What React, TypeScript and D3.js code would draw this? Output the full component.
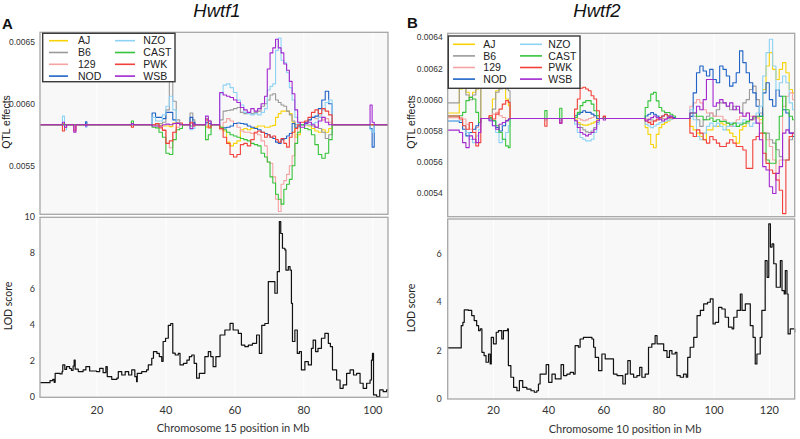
import React from "react";
import * as d3 from "d3";

// ---------- strains ----------
const strainNames = ["AJ", "B6", "129", "NOD", "NZO", "CAST", "PWK", "WSB"];
const strainColors = ["#f7d308", "#9a9a9a", "#f5a3a3", "#1f63c6", "#8ed2f4", "#35c43a", "#f2403a", "#a328d0"];

// QTL effects are stored as deviations from the panel baseline, in units of 1e-6
const effectUnit = 1e-6;
const baselineA = 0.00583;
const baselineB = 0.00588;

// ---------- Panel A (Hwtf1, chromosome 15) ----------
const posA = [3.5, 10.0, 10.6, 11.2, 13.3, 13.9, 16.7, 17.1, 30.0, 30.6, 36.0, 37.0, 38.0, 39.0, 40.0, 41.0, 42.0, 43.0, 44.0, 44.8, 47.0, 47.8, 48.4, 51.5, 52.3, 53.1, 55.6, 56.6, 57.6, 58.6, 59.6, 60.6, 61.6, 62.6, 63.6, 64.6, 65.6, 66.6, 67.6, 68.6, 69.4, 70.2, 71.0, 71.8, 72.6, 73.4, 74.2, 75.0, 75.8, 76.6, 77.4, 78.2, 79.0, 80.2, 81.2, 82.2, 83.2, 84.2, 85.2, 86.2, 87.2, 88.2, 99.2, 99.8, 100.4, 104.4];
const ajA = [0, 10, 0, 0, 0, 0, 0, 0, 0, 0, 0, 0, -5, -10, -10, -15, 15, 15, 5, 0, 10, 0, 0, -20, -10, 0, -20, -50, -140, -170, -150, -130, -40, -30, -40, -30, -20, -10, -10, -20, -20, -10, -5, 60, 90, 110, 110, 110, 90, 20, -100, -80, 0, 0, -10, -30, -50, -60, -40, -60, -30, 0, 0, 0, 0, 0];
const b6A = [0, 0, 0, 0, 0, 0, 0, 0, 0, 0, 0, 0, 10, 20, 120, 380, 190, 40, 10, 0, 95, 40, 0, 50, 30, 0, 40, 110, 115, 120, 130, 140, 100, 90, 95, 90, 100, 110, 150, 170, 200, 240, 250, 200, 180, 160, 150, 110, 80, 30, 0, 0, 0, 0, 0, -10, -20, -30, -60, -110, -80, 0, 0, 0, 0, 0];
const s129A = [0, 0, 0, 0, -40, 0, 0, 0, 0, 0, 0, -10, -30, -40, -150, -185, -60, -20, 0, 0, 10, 0, 0, -10, -30, 0, -40, 20, 50, 30, 10, -20, -50, -60, -60, -70, -70, -80, -130, -170, -300, -310, -420, -600, -700, -480, -450, -400, -330, -250, -80, -20, 0, 20, 40, 60, 50, 70, 40, 50, 20, 0, 0, 0, 0, 0];
const nodA = [0, 0, 0, 0, 0, 0, 25, 0, 0, 0, 95, 60, 60, 50, 100, 100, 40, 15, 10, 0, 60, 20, 0, 20, 10, 0, -30, -25, -20, -10, 10, 15, 10, 5, -10, -20, -30, -40, -60, -70, -80, -100, -110, -140, -150, -120, -110, -90, -70, 10, -20, -10, 0, 20, 40, 60, 70, 130, 200, 270, 170, 0, -30, -180, 0, 0];
const nzoA = [0, 70, -40, 0, 0, 0, -20, 0, 0, 0, 60, 30, 30, 80, 150, 230, 120, 20, 10, 0, -40, -30, 0, 10, 0, 0, 250, 320, 330, 300, 260, 200, 160, 100, 90, 80, 90, 80, 100, 130, 280, 310, 330, 600, 700, 520, 500, 420, 300, 200, 60, 10, 0, 0, 0, 10, 20, 60, 120, 180, 200, 0, -40, -60, 0, 0];
const castA = [0, 0, 0, 0, 0, 0, 0, 0, 30, 0, -20, -25, -60, -100, -230, -240, -120, -40, -30, 0, -10, 0, 0, -120, -80, 0, -20, -40, -60, -80, -90, -100, -110, -120, -130, -150, -160, -170, -230, -260, -300, -420, -470, -560, -600, -640, -520, -480, -440, -330, -150, -60, 0, -30, -40, -80, -160, -240, -270, -230, -120, 0, 0, 0, 0, 0];
const pwkA = [0, -50, -20, 0, -50, 0, 0, 0, -20, 0, 0, 10, -20, -45, -150, -130, -60, 15, 15, 0, 20, -10, 0, 40, -20, 0, -30, -100, -150, -240, -260, -240, -160, -150, -170, -120, -60, -50, -60, -100, -80, -100, -90, -120, -140, -110, -150, -180, -100, -60, -30, 0, 20, 30, 60, 100, 120, 90, 130, 110, 80, 0, 0, 0, 0, 0];
const wsbA = [0, 20, -20, 0, -60, 0, -10, 0, 10, 0, -10, -10, -10, 0, 5, 0, 10, 10, 0, 0, -30, 10, 0, 70, 30, 0, 260, 240, 230, 220, 200, 180, 140, 120, 100, 130, 110, 130, 170, 230, 450, 580, 620, 690, 620, 580, 490, 440, 350, 250, 120, 20, -20, 10, 20, 0, -20, 30, 60, 20, 0, 0, 160, 20, 0, 0];

const lodPosA = [3.5, 5.9, 6.4, 7.2, 7.6, 7.9, 9.3, 9.9, 10.1, 10.7, 11.2, 12.1, 12.6, 13.1, 13.4, 13.7, 14.6, 16.0, 16.8, 17.9, 19.9, 20.8, 21.8, 22.6, 23.0, 24.3, 25.8, 26.2, 27.2, 28.2, 29.2, 30.1, 31.0, 31.5, 31.7, 33.0, 34.4, 34.9, 35.9, 36.4, 37.4, 38.1, 38.8, 39.2, 39.9, 40.7, 41.4, 42.0, 42.7, 43.6, 44.1, 45.1, 46.1, 46.8, 47.5, 48.2, 48.9, 49.7, 50.9, 51.3, 52.3, 53.0, 53.7, 54.5, 55.7, 57.1, 58.6, 59.5, 61.0, 61.9, 62.9, 63.9, 65.1, 66.3, 67.1, 67.8, 68.7, 69.7, 70.7, 71.6, 72.3, 72.9, 73.3, 73.8, 74.5, 74.8, 75.5, 76.0, 76.4, 76.7, 77.4, 78.1, 78.7, 79.3, 80.3, 81.3, 82.2, 82.7, 83.4, 84.1, 85.1, 86.1, 87.1, 87.7, 88.3, 89.5, 90.5, 91.4, 92.4, 93.4, 94.4, 95.3, 96.3, 97.2, 98.2, 99.2, 99.6, 99.9, 100.2, 101.1, 102.0, 103.0, 104.0, 104.4];
const lodA = [0.81, 0.81, 0.93, 1.0, 0.83, 1.33, 1.3, 1.43, 1.8, 1.55, 1.7, 1.6, 1.5, 1.74, 2.07, 1.56, 1.43, 1.52, 1.7, 1.46, 1.43, 1.61, 1.37, 1.7, 1.15, 1.0, 1.06, 1.43, 1.24, 1.43, 1.24, 1.52, 1.15, 0.87, 1.33, 1.43, 1.52, 1.8, 2.17, 2.54, 2.44, 2.26, 2.0, 3.1, 3.28, 4.0, 4.1, 2.45, 2.35, 2.44, 1.8, 1.89, 2.07, 2.26, 2.35, 1.89, 1.06, 1.33, 1.33, 2.26, 2.54, 2.26, 1.7, 2.26, 3.46, 3.74, 4.11, 3.74, 3.55, 2.9, 2.81, 2.9, 3.0, 3.46, 2.44, 4.0, 4.1, 6.43, 6.43, 5.78, 6.98, 9.76, 9.1, 8.28, 8.19, 7.07, 7.26, 7.07, 5.22, 3.1, 3.74, 2.44, 2.54, 1.52, 1.98, 1.8, 2.72, 3.18, 2.54, 2.72, 3.28, 3.55, 3.0, 2.81, 1.52, 0.96, 0.5, 0.69, 1.33, 1.52, 1.24, 1.33, 0.78, 0.5, 0.78, 0.96, 2.07, 2.44, 0.13, 0.04, 0.41, 0.31, 0.41, 0.41];

// ---------- Panel B (Hwtf2, chromosome 10) ----------
const posB = [3.4, 7.6, 8.8, 10.0, 11.2, 12.4, 13.6, 14.6, 15.4, 18.4, 19.6, 20.8, 22.0, 23.2, 24.4, 25.4, 26.0, 38.6, 39.4, 44.0, 44.8, 49.4, 50.4, 51.4, 52.4, 53.4, 54.4, 55.4, 56.4, 57.4, 58.4, 59.8, 60.6, 75.0, 76.0, 77.0, 78.0, 79.0, 80.0, 81.0, 82.0, 83.0, 84.0, 85.0, 86.0, 91.2, 92.4, 93.6, 94.8, 96.0, 97.2, 98.4, 99.6, 100.8, 102.0, 103.2, 104.4, 105.6, 106.8, 108.0, 109.2, 110.4, 111.6, 112.8, 114.0, 115.2, 116.4, 117.6, 118.8, 120.0, 121.2, 122.4, 123.6, 124.8, 126.0, 127.2, 128.4, 129.2];
const ajB = [35, 189, 200, 168, 135, 168, 189, 200, 0, 17, 125, 178, 200, 211, 125, 82, 0, 0, 0, 0, 0, -9, -26, -37, -43, -43, -37, -30, -22, -9, 0, 0, 0, -59, -102, -167, -188, -102, -59, -38, -27, -16, -5, 0, 0, -51, -73, -94, -116, -137, -73, -73, -51, -51, -30, -40, -73, -94, -116, -158, -73, -51, -30, -8, 14, 3, -8, 186, 336, 422, 315, 250, 315, 358, 293, 186, 164, 164];
const b6B = [100, 205, 215, 150, 120, 150, 190, 215, 0, 6, 60, 168, 189, 200, 189, 178, 0, 0, 0, 0, 0, -15, -37, -58, -73, -86, -90, -80, -58, -26, 0, 0, 0, -5, -5, -10, -16, -12, -5, 0, 0, 0, 0, 0, 0, 35, 14, -8, -51, -8, 14, 35, 14, 56, 100, 100, 78, 56, 78, 56, 35, 100, 121, 186, 207, 121, 35, -94, -94, -137, -158, -201, -245, -266, -266, -137, -116, -116];
const s129B = [5, 6, -4, -37, -69, -90, -58, -26, 0, 17, 28, 39, 17, 6, -15, -4, 0, 0, 0, 0, 0, 6, 0, -9, -15, -9, 0, 6, 17, 0, 0, 0, 0, -5, -16, -21, -16, -12, -8, -4, 0, 5, 0, 0, 0, 78, 100, 121, 100, 56, 35, 35, 14, 14, 14, -8, -30, -51, -30, -8, 14, 14, 35, 14, -8, 14, -30, -94, -137, -180, -266, -395, -266, 78, 142, 164, 121, 121];
const nodB = [-16, -26, -69, -112, -90, -69, -47, -26, 0, -4, -15, -58, -80, -47, -15, -4, 0, 0, 0, 0, 0, 17, 28, 39, 49, 39, 39, 28, 17, 0, 0, 10, 0, 16, 27, 38, 27, 16, 5, 16, 27, 16, 9, 5, 0, 13, 164, 293, 336, 304, 272, 315, 250, 229, 336, 315, 272, 207, 229, 293, 433, 358, 293, 229, 164, 78, 13, 164, 229, 121, 78, 185, 142, 56, 35, -94, -116, -116];
const nzoB = [-16, -15, -47, -90, -133, -155, -112, -69, 0, -15, -47, -90, -155, -133, -90, -47, 0, -10, 0, -15, 0, -37, -90, -122, -133, -144, -144, -133, -90, -37, 0, 0, 0, -38, -48, -59, -48, -38, -27, -21, -16, -12, -5, 0, 0, 56, -8, -116, -137, -94, -51, -30, -51, -30, -51, -73, -51, -30, -51, -30, -30, -8, -30, -51, -30, 35, 78, 272, 422, 508, 336, 186, 229, 272, 229, 100, 56, 56];
const castB = [16, 17, 39, 114, 135, 125, 39, -26, 0, 4, -15, -47, -90, -133, -176, -187, 0, 50, 0, 65, 0, 6, 39, 82, 103, 114, 114, 92, 49, 17, 0, 0, 0, 70, 113, 156, 167, 113, 70, 48, 38, 38, 27, 16, 0, 35, 35, 14, 14, -8, -8, 3, -19, -8, -19, -19, -30, -40, -30, -51, -40, -30, -19, -8, 3, 14, 14, -94, -266, -287, -287, -137, 14, 142, 56, 14, -8, -8];
const pwkB = [16, -4, -47, -69, -26, -90, -176, -155, 0, 17, -4, 28, 60, 92, 114, 103, 0, -50, 0, -30, 0, 60, 125, 194, 200, 189, 178, 146, 125, 49, 0, 15, 0, -16, -27, -38, -16, -5, 5, 16, 27, 16, 5, 0, 0, -94, -116, -73, -94, -137, -158, -116, -137, -158, -180, -180, -158, -137, -158, -180, -180, -202, -320, -320, -137, -116, -94, -223, -288, -331, -352, -395, -460, -610, -266, -116, -94, -94];
const wsbB = [-75, -90, -155, -187, -112, -133, -155, -90, 0, -15, -47, -69, -37, -26, -15, -4, 0, 0, 0, -30, 0, -15, -58, -90, -101, -112, -101, -90, -69, -15, 0, -10, 0, -16, -5, 5, 16, 5, -5, -16, -5, 5, 16, 0, 0, 35, 35, 78, 56, 121, 250, 250, 78, 100, 121, 100, 78, 100, 56, 78, 35, 14, 35, -8, 14, -30, -137, -309, -331, -438, -481, -352, -309, -94, -73, -94, -94, -94];

const lodPosB = [3.4, 7.9, 8.3, 8.9, 9.4, 10.9, 12.1, 13.0, 13.9, 14.6, 15.2, 15.8, 16.6, 17.3, 18.2, 18.8, 19.2, 20.0, 21.0, 21.8, 23.0, 23.6, 24.6, 25.1, 25.4, 26.3, 27.3, 28.5, 29.4, 30.6, 32.1, 33.6, 34.8, 35.7, 36.3, 36.9, 38.1, 39.1, 40.0, 41.2, 42.4, 43.6, 44.5, 45.4, 46.6, 47.8, 49.0, 49.6, 50.8, 51.4, 52.6, 54.5, 55.7, 56.3, 56.9, 58.1, 59.3, 60.5, 62.3, 63.5, 64.8, 66.0, 66.9, 67.8, 68.7, 69.6, 70.8, 72.0, 73.0, 73.8, 75.0, 76.2, 77.4, 78.6, 79.3, 80.5, 81.7, 82.9, 83.8, 84.7, 85.9, 86.5, 87.7, 88.9, 89.9, 90.4, 91.3, 92.6, 93.8, 95.0, 96.2, 97.6, 98.6, 99.6, 100.4, 101.6, 102.8, 104.0, 105.2, 106.5, 107.1, 108.3, 109.5, 110.1, 111.3, 112.5, 113.1, 114.1, 114.9, 115.5, 116.7, 117.3, 118.5, 119.2, 119.8, 120.4, 121.0, 121.6, 122.5, 123.4, 124.0, 124.6, 125.4, 125.8, 126.4, 126.8, 127.6, 129.2];
const lodB = [2.11, 2.11, 3.03, 3.17, 3.68, 3.66, 3.45, 3.24, 3.03, 2.83, 2.9, 1.93, 1.79, 1.52, 1.86, 1.45, 2.55, 2.28, 2.76, 2.83, 2.48, 2.83, 2.83, 2.9, 1.38, 0.9, 0.48, 0.34, 0.76, 0.48, 0.41, 0.34, 0.28, 0.34, 0.62, 1.03, 1.03, 1.42, 0.69, 1.03, 0.83, 0.83, 1.42, 0.97, 1.03, 1.1, 1.03, 2.21, 2.14, 2.48, 2.55, 2.55, 2.48, 2.14, 1.72, 1.17, 1.86, 1.66, 1.66, 1.03, 0.97, 0.97, 0.62, 1.03, 1.59, 1.03, 0.9, 0.97, 1.31, 0.9, 1.03, 2.14, 2.28, 2.62, 2.28, 2.28, 2.0, 1.72, 2.0, 1.86, 1.93, 0.97, 0.9, 1.03, 0.9, 1.72, 2.14, 2.55, 3.45, 3.66, 3.93, 4.0, 4.14, 3.1, 3.17, 3.79, 3.72, 3.38, 2.97, 2.9, 3.38, 3.66, 4.34, 3.66, 3.93, 3.93, 3.03, 2.55, 1.45, 1.86, 2.55, 3.66, 5.72, 5.03, 7.24, 6.28, 6.41, 5.59, 4.62, 4.62, 5.72, 4.48, 4.34, 5.31, 4.34, 2.69, 2.9, 2.76];

// ---------- axis ticks ----------
const effectTicksA = [0.0055, 0.006, 0.0065];
const effectTicksB = [0.0054, 0.0056, 0.0058, 0.006, 0.0062, 0.0064];
const lodTicksA = [0, 2, 4, 6, 8, 10];
const lodTicksB = [0, 2, 4, 6];
const mbTicksA = [20, 40, 60, 80, 100];
const mbTicksB = [20, 40, 60, 80, 100, 120];

const topFont = "'Liberation Sans', Arial, Helvetica, sans-serif";
const botFont = "Lato, 'Open Sans', 'Liberation Sans', sans-serif";
const fmt4 = d3.format(".4f");

type Box = { left: number; right: number; top: number; bottom: number };

function Legend({ x, y, w, h, rowY, rowGap, col1, col2 }: any) {
  return (
    <g>
      <rect x={x} y={y} width={w} height={h} fill="#ffffff" stroke="#3a3a3a" strokeWidth={1.4} />
      {strainNames.map((n, i) => {
        const col = i < 4 ? col1 : col2;
        const cy = y + rowY + (i % 4) * rowGap;
        return (
          <g key={n}>
            <line x1={col[0]} x2={col[1]} y1={cy} y2={cy} stroke={strainColors[i]} strokeWidth={1.6} />
            <text x={col[2]} y={cy} dy="0.36em" fontSize={10.5} fontFamily={topFont} fill="#222">{n}</text>
          </g>
        );
      })}
    </g>
  );
}

function EffectsPanel({ id, box, xDomain, yDomain, pos, series, baseline, yTicks, xTicks, labelGap, children }: any) {
  const { left, right, top, bottom } = box as Box;
  const x = d3.scaleLinear().domain(xDomain).range([left, right]);
  const y = d3.scaleLinear().domain(yDomain).range([bottom, top]);
  const gen = d3
    .line<number>()
    .x((_, i) => x(pos[i]))
    .y((v) => y(baseline + v * effectUnit))
    .curve(d3.curveStepAfter);
  return (
    <g>
      <defs>
        <clipPath id={id}>
          <rect x={left} y={top} width={right - left} height={bottom - top} />
        </clipPath>
      </defs>
      <rect x={left} y={top} width={right - left} height={bottom - top} fill="#f8f8f8" />
      {xTicks.map((t: number) => (
        <line key={t} x1={x(t)} x2={x(t)} y1={top} y2={bottom} stroke="#ffffff" strokeWidth={1} />
      ))}
      <g clipPath={`url(#${id})`}>
        {series.map((s: number[], i: number) => (
          <path key={i} d={gen(s) || ""} fill="none" stroke={strainColors[i]} strokeWidth={1.1} strokeLinejoin="round" />
        ))}
      </g>
      <rect x={left} y={top} width={right - left} height={bottom - top} fill="none" stroke="#a6a6a6" strokeWidth={1.3} />
      {yTicks.map((t: number) => (
        <text key={t} x={left - labelGap} y={y(t)} dy="0.35em" textAnchor="end" fontSize={8.5} fontFamily={topFont} fill="#333">
          {fmt4(t)}
        </text>
      ))}
      {children}
    </g>
  );
}

function LodPanel({ box, xDomain, yDomain, pos, vals, yTicks, xTicks, labelGap }: any) {
  const { left, right, top, bottom } = box as Box;
  const x = d3.scaleLinear().domain(xDomain).range([left, right]);
  const y = d3.scaleLinear().domain(yDomain).range([bottom, top]);
  const gen = d3
    .line<number>()
    .x((_, i) => x(pos[i]))
    .y((v) => y(v))
    .curve(d3.curveStepAfter);
  return (
    <g>
      <rect x={left} y={top} width={right - left} height={bottom - top} fill="#f8f8f8" />
      {xTicks.map((t: number) => (
        <line key={t} x1={x(t)} x2={x(t)} y1={top} y2={bottom} stroke="#ffffff" strokeWidth={1} />
      ))}
      <path d={gen(vals) || ""} fill="none" stroke="#111" strokeWidth={1.2} strokeLinejoin="round" />
      <rect x={left} y={top} width={right - left} height={bottom - top} fill="none" stroke="#a6a6a6" strokeWidth={1.3} />
      {yTicks.map((t: number) => (
        <text key={t} x={left - labelGap} y={y(t)} dy="0.35em" textAnchor="end" fontSize={9} fontFamily={botFont} fill="#333">
          {t}
        </text>
      ))}
      {xTicks.map((t: number) => (
        <text key={t} x={x(t)} y={414} textAnchor="middle" fontSize={11} fontFamily={botFont} fill="#333">
          {t}
        </text>
      ))}
    </g>
  );
}

export default function App() {
  const effectsA = [ajA, b6A, s129A, nodA, nzoA, castA, pwkA, wsbA];
  const effectsB = [ajB, b6B, s129B, nodB, nzoB, castB, pwkB, wsbB];
  const xDomA = [3.5, 104.4];
  const xDomB = [3.4, 129.2];
  return (
    <svg width={800} height={439} style={{ position: "absolute", left: 0, top: 0, background: "#fff" }}>
      <rect x={0} y={0} width={800} height={439} fill="#fff" />
      {/* Panel A */}
      <text x={2} y={29} fontSize={15} fontWeight="bold" fontFamily={topFont} fill="#111">A</text>
      <text x={217} y={17} fontSize={18.5} fontStyle="italic" textAnchor="middle" fontFamily={topFont} fill="#111">Hwtf1</text>
      <EffectsPanel
        id="clipA"
        box={{ left: 40, right: 388, top: 32.3, bottom: 214.3 }}
        xDomain={xDomA}
        yDomain={[0.005108, 0.006576]}
        pos={posA}
        series={effectsA}
        baseline={baselineA}
        yTicks={effectTicksA}
        xTicks={mbTicksA}
        labelGap={5}
      >
        <Legend x={42.7} y={33.3} w={132.3} h={48.4} rowY={7.4} rowGap={11.8} col1={[49, 68, 78]} col2={[115, 135, 143.3]} />
      </EffectsPanel>
      <LodPanel
        box={{ left: 40, right: 388, top: 217.3, bottom: 397.3 }}
        xDomain={xDomA}
        yDomain={[0, 10]}
        pos={lodPosA}
        vals={lodA}
        yTicks={lodTicksA}
        xTicks={mbTicksA}
        labelGap={5}
      />
      <text transform="translate(6,122) rotate(-90)" textAnchor="middle" dy="0.35em" fontSize={10.5} fontFamily={topFont} fill="#222">QTL effects</text>
      <text transform="translate(8,306) rotate(-90)" textAnchor="middle" dy="0.35em" fontSize={10.5} fontFamily={botFont} fill="#222">LOD score</text>
      <text x={233} y={432} textAnchor="middle" fontSize={11} fontFamily={botFont} fill="#333">Chromosome 15 position in Mb</text>

      {/* Panel B */}
      <text x={407} y={28} fontSize={15} fontWeight="bold" fontFamily={topFont} fill="#111">B</text>
      <text x={597} y={17} fontSize={18.5} fontStyle="italic" textAnchor="middle" fontFamily={topFont} fill="#111">Hwtf2</text>
      <EffectsPanel
        id="clipB"
        box={{ left: 447.7, right: 794.7, top: 33.3, bottom: 216.7 }}
        xDomain={xDomB}
        yDomain={[0.00525, 0.006426]}
        pos={posB}
        series={effectsB}
        baseline={baselineB}
        yTicks={effectTicksB}
        xTicks={mbTicksB}
        labelGap={5}
      >
        <Legend x={448.3} y={36} w={131.7} h={52.3} rowY={8.3} rowGap={11.6} col1={[453, 475, 483.3]} col2={[520, 542, 548.3]} />
      </EffectsPanel>
      <LodPanel
        box={{ left: 447.7, right: 794.7, top: 219, bottom: 399 }}
        xDomain={xDomB}
        yDomain={[0, 7.44]}
        pos={lodPosB}
        vals={lodB}
        yTicks={lodTicksB}
        xTicks={mbTicksB}
        labelGap={6}
      />
      <text transform="translate(411,122) rotate(-90)" textAnchor="middle" dy="0.35em" fontSize={10.5} fontFamily={topFont} fill="#222">QTL effects</text>
      <text transform="translate(411,308) rotate(-90)" textAnchor="middle" dy="0.35em" fontSize={10.5} fontFamily={botFont} fill="#222">LOD score</text>
      <text x={625} y={433} textAnchor="middle" fontSize={11} fontFamily={botFont} fill="#333">Chromosome 10 position in Mb</text>
    </svg>
  );
}
